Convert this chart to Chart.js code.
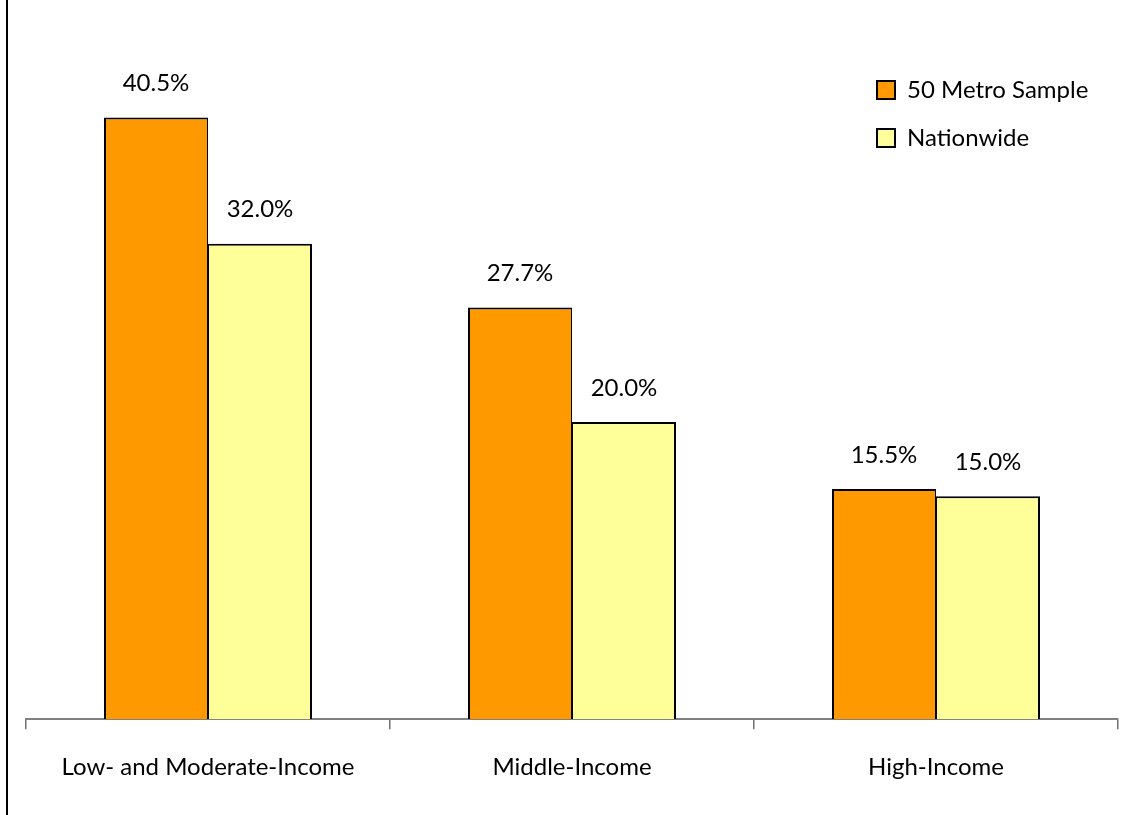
<!DOCTYPE html>
<html><head><meta charset="utf-8">
<script src="https://cdn.jsdelivr.net/npm/chart.js@4/dist/chart.umd.min.js"></script>
<style>
html,body{margin:0;padding:0;background:#fff;}
#wrap{position:relative;width:1127px;height:815px;overflow:hidden;}
#frame{position:absolute;left:6px;top:0;width:2px;height:815px;background:#000;}
canvas{position:absolute;left:0;top:0;}
</style></head><body>
<div id="wrap"><canvas id="c" width="1127" height="815"></canvas><div id="frame"></div></div>
<script>
const categories = ['Low- and Moderate-Income', 'Middle-Income', 'High-Income'];
const seriesNames = ['50 Metro Sample', 'Nationwide'];
const metroSample = [40.5, 27.7, 15.5];
const nationwide = [32.0, 20.0, 15.0];
const yMin = 0, yMax = 48;

const FONT = 'Lato';
const FS = 24;

const valueLabels = {
  id: 'valueLabels',
  afterDatasetsDraw(chart) {
    const ctx = chart.ctx;
    ctx.save();
    ctx.font = FS + 'px ' + FONT;
    ctx.fillStyle = '#000';
    ctx.textAlign = 'center';
    ctx.textBaseline = 'middle';
    chart.data.datasets.forEach((ds, i) => {
      chart.getDatasetMeta(i).data.forEach((bar, j) => {
        ctx.fillText(ds.data[j].toFixed(1) + '%', bar.x, bar.y - 34);
      });
    });
    ctx.restore();
  }
};

const legendPlace = {
  id: 'legendPlace',
  afterLayout(chart) {
    const L = chart.legend;
    const w = L.width, h = L.height;
    L.left = 853;
    L.top = 54;
    L.right = L.left + w;
    L.bottom = L.top + h;
  }
};

new Chart(document.getElementById('c'), {
  type: 'bar',
  data: {
    labels: categories,
    datasets: [
      { label: seriesNames[0], data: metroSample, backgroundColor: '#FF9900', borderColor: '#000',
        borderWidth: { top: 2, left: 2, right: 1, bottom: 0 } },
      { label: seriesNames[1], data: nationwide, backgroundColor: '#FFFF99', borderColor: '#000',
        borderWidth: { top: 2, left: 1, right: 2, bottom: 0 } }
    ]
  },
  options: {
    responsive: false,
    animation: false,
    devicePixelRatio: 1,
    categoryPercentage: 208 / 364,
    barPercentage: 1,
    layout: { padding: { left: 26, right: 9, top: 6, bottom: 9 } },
    plugins: {
      tooltip: { enabled: false },
      legend: {
        position: 'chartArea',
        align: 'start',
        labels: {
          color: '#000',
          font: { family: FONT, size: FS },
          boxWidth: 18,
          boxHeight: 18,
          padding: 24,
          generateLabels(chart) {
            const items = Chart.defaults.plugins.legend.labels.generateLabels(chart);
            items.forEach(it => { it.lineWidth = 2; it.strokeStyle = '#000'; });
            return items;
          }
        }
      }
    },
    scales: {
      x: {
        offset: true,
        grid: { offset: true, drawOnChartArea: false, drawTicks: true, tickLength: 10, color: '#707070', lineWidth: 1.5 },
        border: { display: true, color: '#808080', width: 2 },
        ticks: { color: '#000', font: { family: FONT, size: FS }, padding: 24, maxRotation: 0, autoSkip: false }
      },
      y: { display: false, min: yMin, max: yMax }
    }
  },
  plugins: [valueLabels, legendPlace]
});
</script>
</body></html>
